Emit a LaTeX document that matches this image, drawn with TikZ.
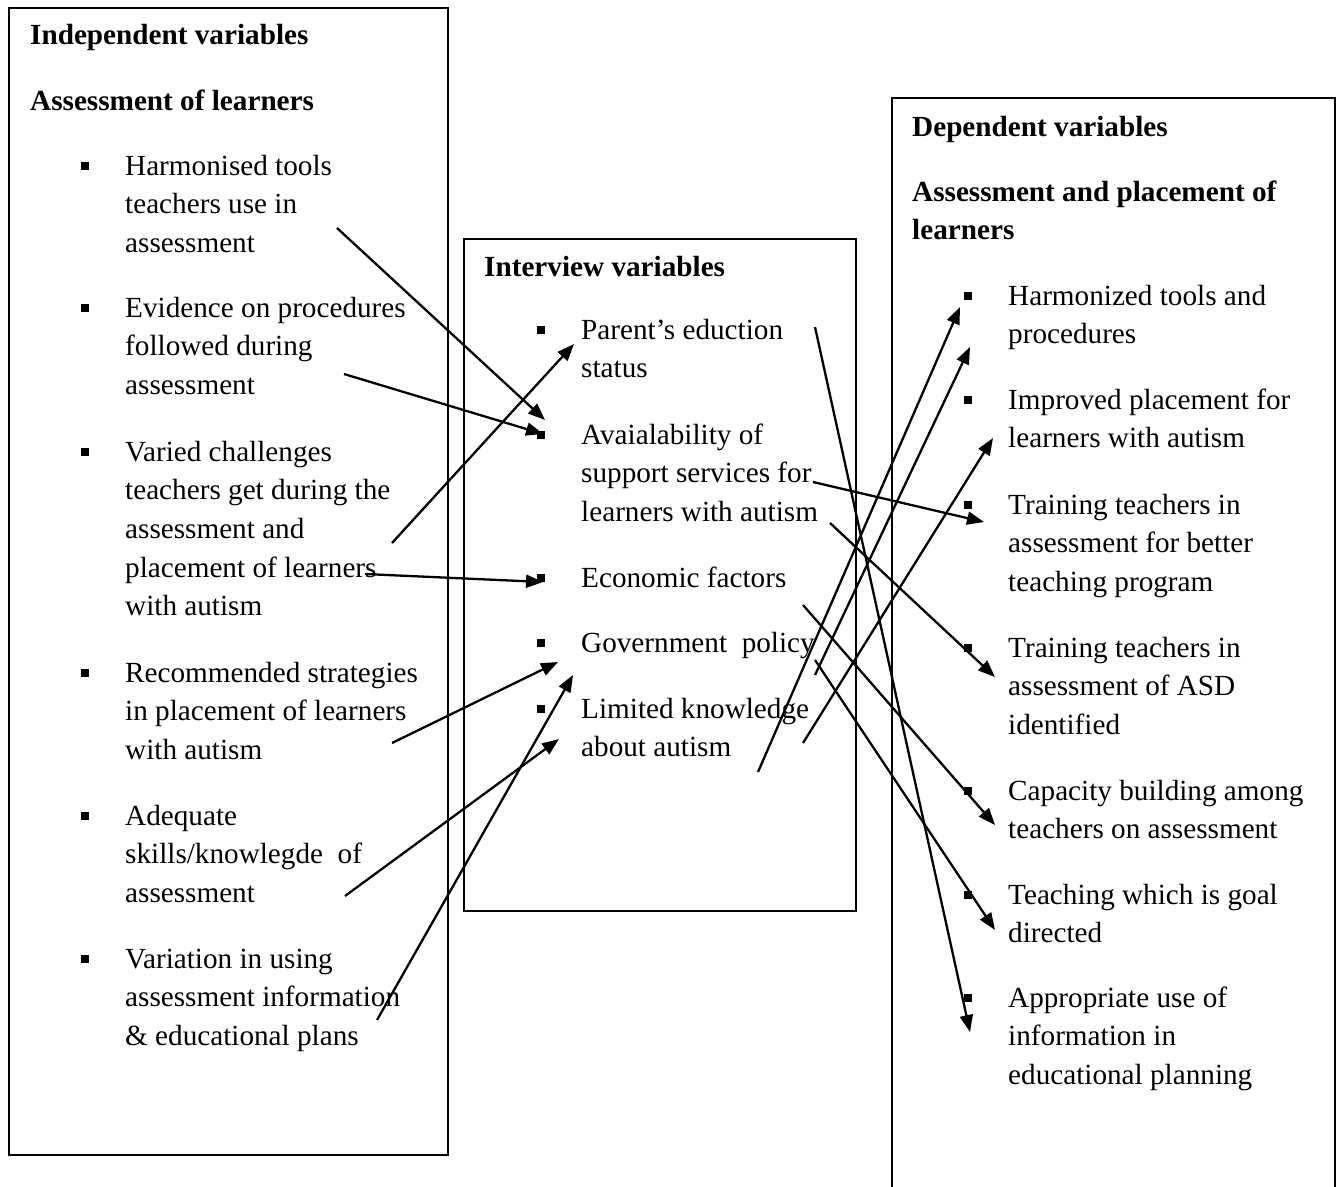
\documentclass[tikz,border=0pt]{standalone}
\usepackage{fontspec}
\setmainfont{Liberation Serif}
\usetikzlibrary{arrows.meta,positioning}

\begin{document}
\begin{tikzpicture}
	[x=1pt, y=-1pt, inner sep=0pt,
	font=\fontsize{29.2}{38.6}\selectfont,
	frame/.style	= {draw, rectangle, line width=2pt, anchor=north west},
	head/.style		= {anchor=north west, font=\fontsize{29.2}{38.6}\selectfont\bfseries, align=left},
	item/.style		= {anchor=north west, align=left},
	blt/.style		= {fill, rectangle, minimum size=8pt},
	link/.style		= {line width=2.3pt, -{Triangle[length=17pt,width=13pt]}}]

	\useasboundingbox (0,0) rectangle (1337,1186);

	% boxes
	\node [frame, minimum width=439pt, minimum height=1147pt]	at (8,7)		(lbox) {};
	\node [frame, minimum width=392pt, minimum height=672pt]	at (463,238)	(mbox) {};
	\node [frame, minimum width=443pt, minimum height=1110pt]	at (891,97)		(rbox) {};

	% independent variables
	\node [head]	at (30,17)		(ivh)	{\strut Independent variables};
	\node [head]	at (30,83)		(ivs)	{\strut Assessment of learners};
	\node [item]	at (125,148)	(iv1)	{\strut Harmonised tools\\teachers use in\\assessment};
	\node [item]	at (125,290)	(iv2)	{\strut Evidence on procedures\\followed during\\assessment};
	\node [item]	at (125,434)	(iv3)	{\strut Varied challenges\\teachers get during the\\assessment and\\placement of learners\\with autism};
	\node [item]	at (125,655)	(iv4)	{\strut Recommended strategies\\in placement of learners\\with autism};
	\node [item]	at (125,798)	(iv5)	{\strut Adequate\\skills/knowlegde~ of\\assessment};
	\node [item]	at (125,941)	(iv6)	{\strut Variation in using\\assessment information\\\& educational plans};

	% interview variables
	\node [head]	at (484,249)	(mvh)	{\strut Interview variables};
	\node [item]	at (581,312)	(mv1)	{\strut Parent’s eduction\\status};
	\node [item]	at (581,417)	(mv2)	{\strut Avaialability of\\support services for\\learners with autism};
	\node [item]	at (581,560)	(mv3)	{\strut Economic factors};
	\node [item]	at (581,625)	(mv4)	{\strut Government~ policy};
	\node [item]	at (581,691)	(mv5)	{\strut Limited knowledge\\about autism};

	% dependent variables
	\node [head]	at (912,109)	(dvh)	{\strut Dependent variables};
	\node [head]	at (912,174)	(dvs)	{\strut Assessment and placement of\\learners};
	\node [item]	at (1008,278)	(dv1)	{\strut Harmonized tools and\\procedures};
	\node [item]	at (1008,382)	(dv2)	{\strut Improved placement for\\learners with autism};
	\node [item]	at (1008,487)	(dv3)	{\strut Training teachers in\\assessment for better\\teaching program};
	\node [item]	at (1008,630)	(dv4)	{\strut Training teachers in\\assessment of ASD\\identified};
	\node [item]	at (1008,773)	(dv5)	{\strut Capacity building among\\teachers on assessment};
	\node [item]	at (1008,877)	(dv6)	{\strut Teaching which is goal\\directed};
	\node [item]	at (1008,980)	(dv7)	{\strut Appropriate use of\\information in\\educational planning};

	% bullets
	\node [blt]	[below left = 14pt and 36pt of iv1.north west]	{};
	\node [blt]	[below left = 14pt and 36pt of iv2.north west]	{};
	\node [blt]	[below left = 14pt and 36pt of iv3.north west]	{};
	\node [blt]	[below left = 14pt and 36pt of iv4.north west]	{};
	\node [blt]	[below left = 14pt and 36pt of iv5.north west]	{};
	\node [blt]	[below left = 14pt and 36pt of iv6.north west]	{};
	\node [blt]	[below left = 14pt and 36pt of mv1.north west]	{};
	\node [blt]	[below left = 14pt and 36pt of mv2.north west]	{};
	\node [blt]	[below left = 14pt and 36pt of mv3.north west]	{};
	\node [blt]	[below left = 14pt and 36pt of mv4.north west]	{};
	\node [blt]	[below left = 14pt and 36pt of mv5.north west]	{};
	\node [blt]	[below left = 14pt and 36pt of dv1.north west]	{};
	\node [blt]	[below left = 14pt and 36pt of dv2.north west]	{};
	\node [blt]	[below left = 14pt and 36pt of dv3.north west]	{};
	\node [blt]	[below left = 14pt and 36pt of dv4.north west]	{};
	\node [blt]	[below left = 14pt and 36pt of dv5.north west]	{};
	\node [blt]	[below left = 14pt and 36pt of dv6.north west]	{};
	\node [blt]	[below left = 14pt and 36pt of dv7.north west]	{};

	% arrow ends
	\coordinate (s1)	at (337,228);	\coordinate (e1)	at (545,420);
	\coordinate (s2)	at (344,374);	\coordinate (e2)	at (543,434);
	\coordinate (s3)	at (392,543);	\coordinate (e3)	at (574,344);
	\coordinate (s4)	at (365,574);	\coordinate (e4)	at (543,582);
	\coordinate (s5)	at (392,743);	\coordinate (e5)	at (558,662);
	\coordinate (s6)	at (345,896);	\coordinate (e6)	at (559,739);
	\coordinate (s7)	at (377,1020);	\coordinate (e7)	at (573,675);
	\coordinate (s8)	at (815,327);	\coordinate (e8)	at (970,1032);
	\coordinate (s9)	at (813,482);	\coordinate (e9)	at (984,522);
	\coordinate (s10)	at (830,523);	\coordinate (e10)	at (995,677);
	\coordinate (s11)	at (803,605);	\coordinate (e11)	at (995,825);
	\coordinate (s12)	at (815,660);	\coordinate (e12)	at (995,930);
	\coordinate (s13)	at (758,772);	\coordinate (e13)	at (960,307);
	\coordinate (s14)	at (815,675);	\coordinate (e14)	at (970,347);
	\coordinate (s15)	at (803,743);	\coordinate (e15)	at (993,438);

	\draw [link] (s1) -- (e1);
	\draw [link] (s2) -- (e2);
	\draw [link] (s3) -- (e3);
	\draw [link] (s4) -- (e4);
	\draw [link] (s5) -- (e5);
	\draw [link] (s6) -- (e6);
	\draw [link] (s7) -- (e7);
	\draw [link] (s8) -- (e8);
	\draw [link] (s9) -- (e9);
	\draw [link] (s10) -- (e10);
	\draw [link] (s11) -- (e11);
	\draw [link] (s12) -- (e12);
	\draw [link] (s13) -- (e13);
	\draw [link] (s14) -- (e14);
	\draw [link] (s15) -- (e15);
\end{tikzpicture}
\end{document}
